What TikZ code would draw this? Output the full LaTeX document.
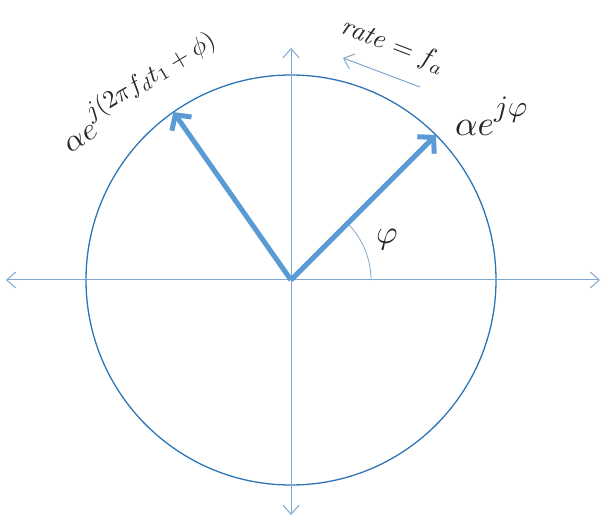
\documentclass[tikz,border=0pt]{standalone}
\usepackage{amsmath, amssymb}
\usepackage{xcolor}
\usepackage{tikz}
\usetikzlibrary{arrows.meta, positioning}

\definecolor{phasorblue}{HTML}{5B9BD5}
\definecolor{rimblue}{HTML}{2E75B6}
\definecolor{axisblue}{HTML}{7FA7D0}

\newcommand{\expo}[2][0.8]{\raisebox{1.3ex}{\scalebox{#1}{$#2$}}}

\begin{document}
\begin{tikzpicture}[x=1pt, y=1pt, >={Straight Barb[length=9pt, width=16pt]},
    axis/.style={draw=axisblue, line width=1pt, <->},
    phasor/.style={draw=phasorblue, line width=5pt, -{Straight Barb[length=11pt, width=24pt, line width=5pt]}},
    lbl/.style={inner sep=1pt, text=black!85}]
    \useasboundingbox (-291,-236) rectangle (313,280);

    % Points
    \coordinate (O) at (0,0);
    \coordinate (xl) at (-285,0);
    \coordinate (xr) at (309,0);
    \coordinate (yt) at (0,232);
    \coordinate (yb) at (0,-235);
    \coordinate (tip1) at (45:205);
    \coordinate (tip2) at (125:205);
    \coordinate (rs) at (129,193);
    \coordinate (re) at (52,222);

    % Circle and axes
    \draw[rimblue, line width=1.3pt] (O) circle (205);
    \draw[axis] (xl) -- (xr);
    \draw[axis] (yb) -- (yt);

    % Phasors
    \draw[phasor] (O) -- (tip1);
    \draw[phasor] (O) -- (tip2);
    \draw[axisblue, line width=0.8pt] (80,0) arc (0:45:80);

    % Labels
    \node[lbl, scale=3.3] (phi) at (96,40) {$\varphi$};
    \node[lbl, scale=3.5, anchor=base west] (p1) at (160,144)
        {$\alpha e$\expo[0.85]{j\varphi}};
    \node[lbl, scale=3.1, rotate=31, anchor=base west] (p2) at (-224,125)
        {$\alpha e$\expo{j(2\pi f_d t_1+\phi)}};
    \node[lbl, scale=2.7, rotate=-21] (rate) at (102,234) {$\mathit{rate}=f_a$};

    % Rotation arrow
    \draw[axisblue, line width=1pt, ->] (rs) -- (re);
\end{tikzpicture}
\end{document}
